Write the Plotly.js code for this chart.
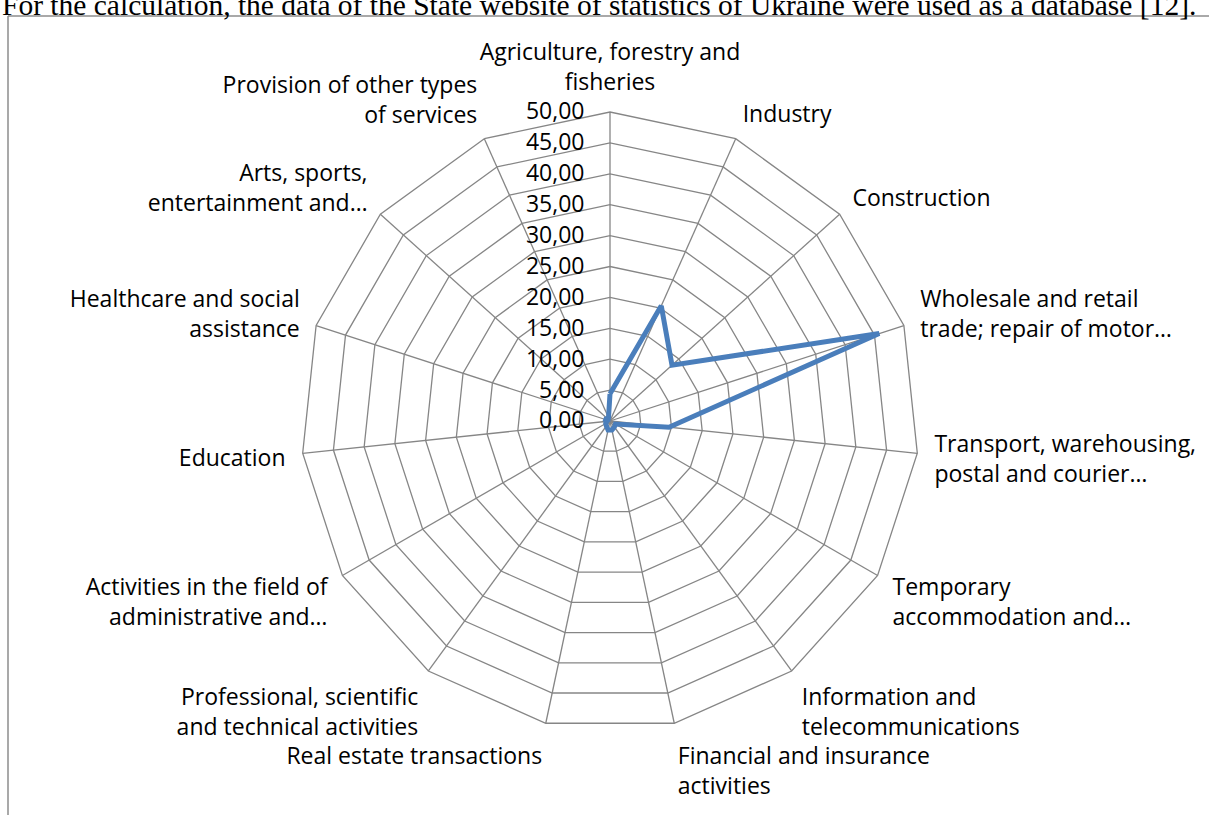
<!DOCTYPE html>
<html>
<head>
<meta charset="utf-8">
<script src="https://cdn.plot.ly/plotly-3.0.1.min.js"></script>
<style>
  html, body { margin: 0; padding: 0; background: #fff; overflow: hidden; }
  #chart { width: 1209px; height: 815px; }
</style>
</head>
<body>
<div id="chart"></div>
<script>
// Radar of economic activity types
const categories = [
  "Agriculture, forestry and<br>fisheries",
  "Industry",
  "Construction",
  "Wholesale and retail<br>trade; repair of motor…",
  "Transport, warehousing,<br>postal and courier…",
  "Temporary<br>accommodation and…",
  "Information and<br>telecommunications",
  "Financial and insurance<br>activities",
  "Real estate transactions",
  "Professional, scientific<br>and technical activities",
  "Activities in the field of<br>administrative and…",
  "Education",
  "Healthcare and social<br>assistance",
  "Arts, sports,<br>entertainment and…",
  "Provision of other types<br>of services",
];
const values = [4.4, 20.4, 13.5, 45.8, 9.6, 1.0, 1.2, 1.5, 1.5, 1.0, 0.8, 0.5, 1.0, 0.4, 0.6];
const radialTicks = [0, 5, 10, 15, 20, 25, 30, 35, 40, 45, 50];

const headerText = "For the calculation, the data of the State website of statistics of Ukraine were used as a database [12].";

const LABEL_FONT = { family: "'Open Sans', Lato, sans-serif", size: 23, color: "#000" };
const GRID = "#868686";

const W = 1209, H = 815;
const cx = 610, cy = 421, R = 309;

const trace = [{
  type: "scatterpolar",
  r: [...values, values[0]],
  theta: [...categories, categories[0]],
  mode: "lines",
  line: { color: "#4A7EBB", width: 5 },
  hoverinfo: "skip",
  showlegend: false,
}];

const layout = {
  width: W, height: H,
  paper_bgcolor: "#fff",
  margin: { t: 0, l: 0, r: 0, b: 0 },
  separators: ", ",
  showlegend: false,
  polar: {
    domain: {
      x: [(cx - R) / W, (cx + R) / W],
      y: [(H - cy - R) / H, (H - cy + R) / H],
    },
    gridshape: "linear",
    bgcolor: "#fff",
    radialaxis: {
      range: [0, 50],
      tickvals: radialTicks,
      tickformat: ".2f",
      angle: 90,
      side: "counterclockwise",
      tickangle: 90,
      showline: false,
      ticks: "outside",
      ticklen: 17,
      tickcolor: "rgba(0,0,0,0)",
      gridcolor: GRID,
      gridwidth: 1.3,
      tickfont: LABEL_FONT,
    },
    angularaxis: {
      rotation: 90,
      direction: "clockwise",
      linecolor: GRID,
      linewidth: 1.3,
      gridcolor: GRID,
      gridwidth: 1.3,
      ticks: "outside",
      ticklen: 12,
      tickcolor: "rgba(0,0,0,0)",
      tickfont: LABEL_FONT,
    },
  },
  shapes: [
    { type: "line", xref: "paper", yref: "paper", x0: 8 / W, x1: 8 / W, y0: 0, y1: (H - 16) / H,
      line: { color: "#8c8c8c", width: 1.5 } },
    { type: "line", xref: "paper", yref: "paper", x0: 8 / W, x1: 1, y0: (H - 16) / H, y1: (H - 16) / H,
      line: { color: "#8c8c8c", width: 1.5 } },
  ],
  annotations: [{
    text: headerText,
    xref: "paper", yref: "paper",
    x: 0, y: (H - 5) / H,
    xanchor: "left", yanchor: "middle",
    showarrow: false,
    font: { family: "'Liberation Serif', 'Times New Roman', serif", size: 29.5, color: "#000" },
  }],
};

Plotly.newPlot("chart", trace, layout, { displayModeBar: false, staticPlot: true });
</script>
</body>
</html>
